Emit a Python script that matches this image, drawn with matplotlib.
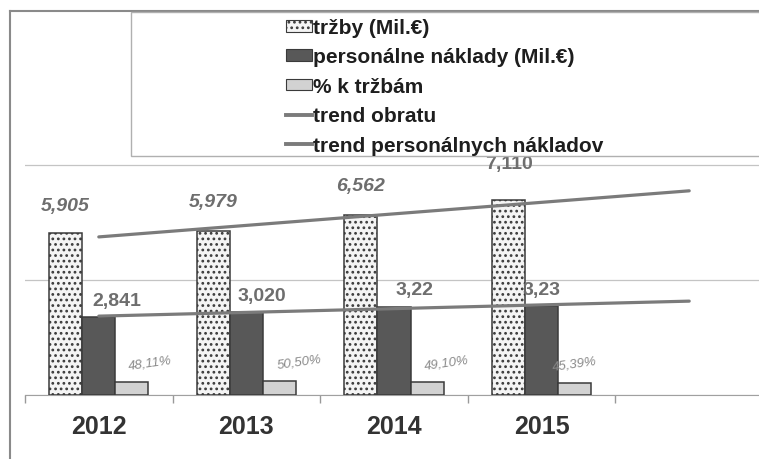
import numpy as np
import matplotlib
matplotlib.use("Agg")
import matplotlib.pyplot as plt
from matplotlib.patches import Rectangle, Patch
from matplotlib.lines import Line2D

plt.rcParams["font.family"] = ["Liberation Sans", "DejaVu Sans"]
plt.rcParams["hatch.linewidth"] = 1.2

# -----------------------------
# Data
# -----------------------------
years = ["2012", "2013", "2014", "2015"]
trzby = [5.905, 5.979, 6.562, 7.110]
naklady = [2.841, 3.020, 3.22, 3.23]
podiel = [0.4811, 0.5050, 0.4910, 0.4539]

trzby_labels = ["5,905", "5,979", "6,562", "7,110"]
naklady_labels = ["2,841", "3,020", "3,22", "3,23"]
podiel_labels = ["48,11%", "50,50%", "49,10%", "45,39%"]

# -----------------------------
# Figure
# -----------------------------
W, H = 759, 460
fig = plt.figure(figsize=(W / 100, H / 100), dpi=100)
fig.patch.set_facecolor("white")

# axes: baseline at y=396px, x from 25px, 147.6px per category, 27.45px per unit
px_unit = 27.45
ax_top = 11
ax = fig.add_axes([25 / W, (H - 396) / H, 738 / W, (396 - ax_top) / H])
ax.set_xlim(-0.5, 4.5)
ax.set_ylim(0, (396 - ax_top) / px_unit)

x = np.arange(len(years))
bw = 0.224

ax.bar(x - bw, trzby, bw, color="#f4f4f4", edgecolor="#3a3a3a",
       hatch="...", linewidth=1.1, zorder=3)
ax.bar(x, naklady, bw, color="#585858", edgecolor="#3a3a3a",
       linewidth=1.1, zorder=3)
ax.bar(x + bw, podiel, bw, color="#d2d2d2", edgecolor="#3a3a3a",
       linewidth=1.1, zorder=3)

# linear trendlines, forecast one period forward
xt = np.array([0, 4])
k1, q1 = np.polyfit(x, trzby, 1)
k2, q2 = np.polyfit(x, naklady, 1)
ax.plot(xt, k1 * xt + q1, color="#7b7b7b", lw=2.3, zorder=4,
        solid_capstyle="round")
ax.plot(xt, k2 * xt + q2, color="#7b7b7b", lw=2.3, zorder=4,
        solid_capstyle="round")

# value labels (offsets in points)
tr_dy = [20, 21, 21, 26]
tr_style = ["italic", "italic", "italic", "normal"]
for i in range(len(years)):
    ax.annotate(trzby_labels[i], (x[i] - bw, trzby[i]), xytext=(0, tr_dy[i]),
                textcoords="offset points", ha="center", va="center",
                fontsize=14, fontweight="bold", fontstyle=tr_style[i],
                color="#6e6e6e", zorder=5)

nk_dx = [13, 11, 15, 0]
for i in range(len(years)):
    ax.annotate(naklady_labels[i], (x[i], naklady[i]), xytext=(nk_dx[i], 12),
                textcoords="offset points", ha="center", va="center",
                fontsize=14, fontweight="bold", color="#6e6e6e", zorder=5)

pd_dx = [13, 14, 14, 0]
for i in range(len(years)):
    ax.annotate(podiel_labels[i], (x[i] + bw, podiel[i]), xytext=(pd_dx[i], 14),
                textcoords="offset points", ha="center", va="center",
                fontsize=9.5, fontstyle="italic", rotation=8,
                color="#8a8a8a", zorder=5)

# axes styling
ax.set_yticks([0, 115 / px_unit, 230 / px_unit])
ax.yaxis.grid(True, color="#c4c4c4", lw=0.9)
ax.set_yticklabels([])
ax.tick_params(axis="y", length=0)
ax.set_xticks(x)
ax.set_xticklabels(years, fontsize=18, fontweight="bold", color="#333333")
ax.tick_params(axis="x", which="major", length=0, pad=14)
ax.set_xticks(np.arange(-0.5, 5, 1), minor=True)
ax.tick_params(axis="x", which="minor", length=6, color="#999999", width=1)
for s in ["top", "right", "left"]:
    ax.spines[s].set_visible(False)
ax.spines["bottom"].set_color("#a0a0a0")
ax.set_axisbelow(True)

# outer chart frame
fig.add_artist(Line2D([10 / W, 10 / W], [0, 1 - 12 / H], color="#8a8a8a", lw=1.5))
fig.add_artist(Line2D([10 / W, 758 / W], [1 - 12 / H, 1 - 12 / H], color="#8a8a8a", lw=1.5))

# legend box
fig.add_artist(Rectangle((131 / W, 1 - 157 / H), 700 / W, 144 / H,
                         facecolor="white", edgecolor="#b0b0b0", lw=1.0,
                         zorder=6))
handles = [
    Patch(facecolor="#f4f4f4", edgecolor="#3a3a3a", hatch="...", lw=0.8),
    Patch(facecolor="#585858", edgecolor="#3a3a3a", lw=0.8),
    Patch(facecolor="#d2d2d2", edgecolor="#3a3a3a", lw=0.8),
    Line2D([], [], color="#7b7b7b", lw=2.8),
    Line2D([], [], color="#7b7b7b", lw=2.8),
]
names = ["tržby (Mil.€)", "personálne náklady (Mil.€)", "% k tržbám",
         "trend obratu", "trend personálnych nákladov"]
leg = fig.legend(handles, names, loc="upper left",
                 bbox_to_anchor=(286 / W, 1 - 19 / H), frameon=False,
                 prop={"size": 15, "weight": "bold"}, handlelength=1.25,
                 handleheight=0.5, handletextpad=0.06, labelspacing=0.5,
                 borderpad=0, borderaxespad=0)
for t in leg.get_texts():
    t.set_color("#1e1e1e")
leg.set_zorder(7)

fig.savefig("out.png", dpi=100)
